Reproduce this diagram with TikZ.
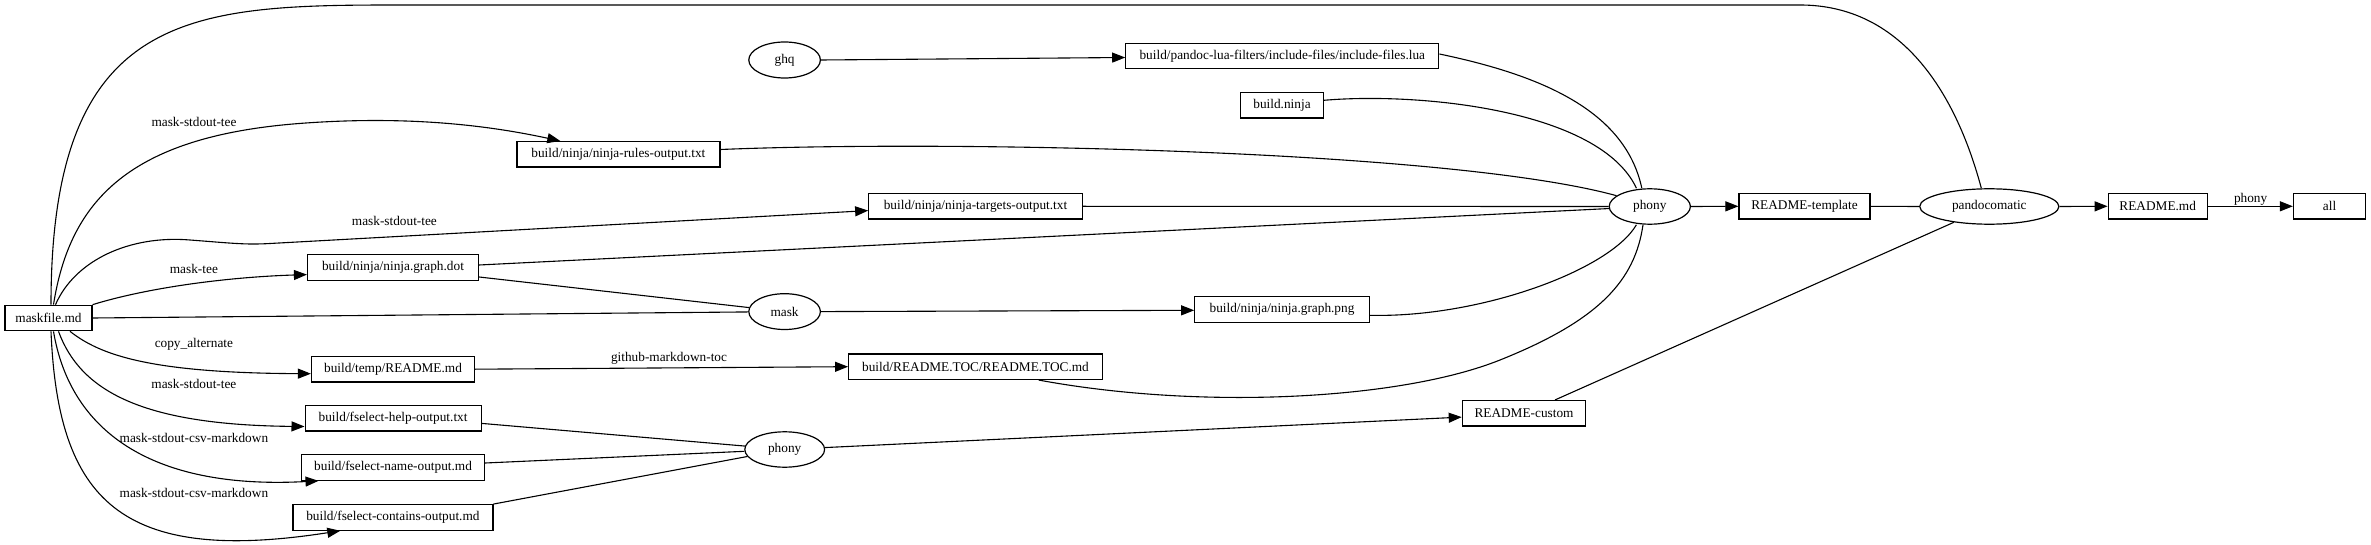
\documentclass[tikz,border=0pt]{standalone}
\usepackage{fontspec}
\setmainfont{Liberation Serif}
\usetikzlibrary{arrows.meta,shapes.geometric}
\begin{document}
\begin{tikzpicture}[x=1pt,y=-1pt,
  every node/.style={font=\fontsize{13.3}{15}\selectfont},
  box/.style={draw,line width=1.2pt,rectangle,minimum height=25.5pt,inner sep=0pt},
  oval/.style={draw,line width=1.2pt,ellipse,inner sep=0pt},
  edge/.style={line width=1.1pt},
  arr/.style={edge,-{Triangle[length=13pt,width=10pt]}},
  lab/.style={inner sep=0pt,text height=9pt,text depth=3pt}]
\fill[white] (0,0) rectangle (2371,545);
\useasboundingbox (0,0) rectangle (2371,545);

\node[box,minimum width=87pt] (mf) at (48.5,318) {maskfile.md};
\node[box,minimum width=203pt] (rules) at (618.4,154.3) {build/ninja/ninja-rules-output.txt};
\node[box,minimum width=171pt] (dot) at (393,267.5) {build/ninja/ninja.graph.dot};
\node[oval,minimum width=71.6pt,minimum height=35.8pt] (mask) at (784.6,311.6) {mask};
\node[box,minimum width=163pt] (tmp) at (393,369.2) {build/temp/README.md};
\node[box,minimum width=176pt] (help) at (393.1,418.3) {build/fselect-help-output.txt};
\node[box,minimum width=183pt] (name) at (393.1,467.5) {build/fselect-name-output.md};
\node[box,minimum width=200pt] (contains) at (392.9,517.4) {build/fselect-contains-output.md};
\node[oval,minimum width=79.8pt,minimum height=35.4pt] (phonyb) at (784.7,449.5) {phony};
\node[oval,minimum width=71.6pt,minimum height=36pt] (ghq) at (784.6,60) {ghq};
\node[box,minimum width=313pt] (lua) at (1282.3,56) {build/pandoc-lua-filters/include-files/include-files.lua};
\node[box,minimum width=82.7pt] (bn) at (1282,105.3) {build.ninja};
\node[box,minimum width=213.5pt] (targets) at (975.5,206.3) {build/ninja/ninja-targets-output.txt};
\node[box,minimum width=174.5pt] (png) at (1282,309.4) {build/ninja/ninja.graph.png};
\node[box,minimum width=253.7pt] (toc) at (975.5,366.7) {build/README.TOC/README.TOC.md};
\node[box,minimum width=123.4pt] (custom) at (1524,413.3) {README-custom};
\node[oval,minimum width=81.2pt,minimum height=35.4pt] (phony) at (1649.8,206.5) {phony};
\node[box,minimum width=131pt] (tmpl) at (1804.5,206.3) {README-template};
\node[oval,minimum width=139.2pt,minimum height=35.4pt] (pc) at (1989.3,206.5) {pandocomatic};
\node[box,minimum width=99pt] (rmd) at (2157.7,206.3) {README.md};
\node[box,minimum width=72.3pt] (all) at (2329.6,206.3) {all};

\draw[arr] ([xshift=5pt]mf.north) .. controls (70,200) and (130,135) .. (306,123) .. controls (420,115) and (500,128) .. ([xshift=44pt]rules.north west);
\draw[arr] ([xshift=7pt]mf.north) .. controls (75,260) and (130,235) .. (190,240) .. controls (230,243) and (245,245) .. (270,243.5) -- ([yshift=-4.3pt]targets.west);
\draw[arr] (mf.north east) .. controls (150,287) and (230,277) .. ([yshift=-7.1pt]dot.west);
\draw[edge] (mf.east) -- (mask);
\draw[edge] ([yshift=-9.5pt]dot.east) -- (mask);
\draw[arr] ([xshift=21.5pt]mf.south) .. controls (100,355) and (150,373) .. ([yshift=-4.5pt]tmp.west);
\draw[arr] ([xshift=10pt]mf.south) .. controls (80,390) and (140,425) .. ([yshift=-8.2pt]help.west);
\draw[arr] ([xshift=5pt]mf.south) .. controls (70,430) and (150,490) .. ([xshift=17.5pt]name.south west);
\draw[arr] ([xshift=2.5pt]mf.south) .. controls (58,500) and (120,565) .. ([xshift=48pt]contains.south west);
\draw[edge] ([xshift=2.5pt]mf.north) .. controls (51,0) and (200,5) .. (420,5) -- (1800,5) .. controls (1900,5) and (1955,90) .. ([xshift=-8pt]pc.north);
\draw[arr] (ghq.east) -- ([yshift=-1.5pt]lua.west);
\draw[edge] ([yshift=2pt]lua.east) .. controls (1540,75) and (1625,110) .. ([xshift=-8pt]phony.north);
\draw[edge] ([yshift=5pt]bn.east) .. controls (1420,92) and (1600,110) .. ([xshift=-13.4pt]phony.north);
\draw[edge] ([yshift=4.8pt]rules.east) .. controls (950,140) and (1450,150) .. (phony.162);
\draw[edge] (targets.east) -- (phony.west);
\draw[edge] ([yshift=2.5pt]dot.east) -- (phony);
\draw[arr] (mask.east) -- ([yshift=-0.9pt]png.west);
\draw[edge] ([yshift=-5.9pt]png.east) .. controls (1480,318) and (1610,270) .. ([xshift=-13.4pt]phony.south);
\draw[edge] ([xshift=63.2pt]toc.south) .. controls (1200,410) and (1400,400) .. (1500,360) .. controls (1600,320) and (1635,280) .. ([xshift=-6.8pt]phony.south);
\draw[arr] (tmp.east) -- node[lab,above=3pt,pos=0.52] (l8) {github-markdown-toc} (toc.west);
\draw[edge] ([yshift=-5.1pt]help.east) -- (phonyb);
\draw[edge] ([yshift=4.5pt]name.east) -- (phonyb);
\draw[edge] (contains.north east) -- (phonyb);
\draw[arr] (phonyb) -- ([yshift=-3.8pt]custom.west);
\draw[edge] ([xshift=31pt]custom.north) -- (pc);
\draw[arr] (phony.east) -- (tmpl.west);
\draw[edge] (tmpl.east) -- (pc.west);
\draw[arr] (pc.east) -- (rmd.west);
\draw[arr] (rmd.east) -- (all.west);

\node[lab] (l1) at (194,124) {mask-stdout-tee};
\node[lab] (l2) at (394.4,222.8) {mask-stdout-tee};
\node[lab] (l3) at (193.9,270.8) {mask-tee};
\node[lab] (l4) at (193.9,344.1) {copy\_alternate};
\node[lab] (l5) at (193.9,385.1) {mask-stdout-tee};
\node[lab] (l6) at (193.9,439) {mask-stdout-csv-markdown};
\node[lab] (l7) at (193.9,494.6) {mask-stdout-csv-markdown};
\node[lab] (l9) at (2250.6,199.2) {phony};
\end{tikzpicture}
\end{document}
